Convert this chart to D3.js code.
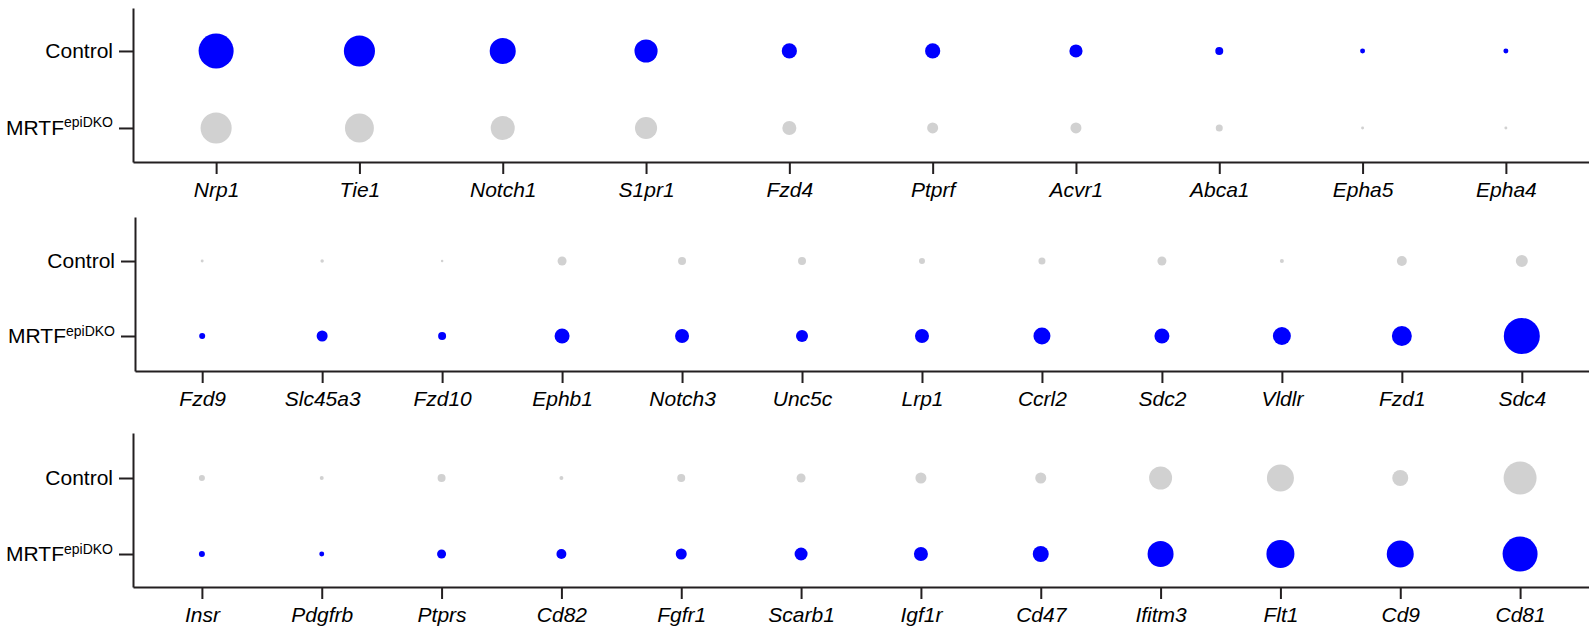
<!DOCTYPE html>
<html>
<head>
<meta charset="utf-8">
<script src="https://cdn.jsdelivr.net/npm/d3@7"></script>
<style>
  html, body { margin: 0; padding: 0; background: #ffffff; }
  svg { display: block; }
  text { font-family: "Liberation Sans", Arial, Helvetica, sans-serif; fill: #000; }
</style>
</head>
<body>
<script>
// Sample groups (rows of every panel)
const groups = ["Control", "KO"];
const groupLabels = { Control: "Control", KO: "MRTF" };
const groupSuperscripts = { Control: "", KO: "epiDKO" };

// Panel 1: genes higher in Control
const panel1Genes = ["Nrp1", "Tie1", "Notch1", "S1pr1", "Fzd4", "Ptprf", "Acvr1", "Abca1", "Epha5", "Epha4"];
const panel1Control = [85, 67, 47, 37, 16, 16, 12, 4.4, 1.7, 1.7];
const panel1KO = [67, 58, 40, 34, 13.6, 8.4, 8.4, 3.4, 0.6, 0.6];
const panel1Up = "Control";

// Panel 2: genes higher in MRTF epiDKO
const panel2Genes = ["Fzd9", "Slc45a3", "Fzd10", "Ephb1", "Notch3", "Unc5c", "Lrp1", "Ccrl2", "Sdc2", "Vldlr", "Fzd1", "Sdc4"];
const panel2Control = [0.6, 0.85, 0.43, 5.6, 4.4, 4.4, 2.5, 3.4, 5.6, 1.1, 6.9, 10];
const panel2KO = [2.5, 8.4, 4.4, 15.6, 13.6, 10, 13.6, 20, 15.6, 22.4, 27.7, 89.8];
const panel2Up = "KO";

// Panel 3: genes higher in MRTF epiDKO
const panel3Genes = ["Insr", "Pdgfrb", "Ptprs", "Cd82", "Fgfr1", "Scarb1", "Igf1r", "Cd47", "Ifitm3", "Flt1", "Cd9", "Cd81"];
const panel3Control = [2.5, 1.1, 4.4, 1.1, 4.4, 5.6, 8.4, 8.4, 36.6, 50.5, 17.7, 75.4];
const panel3KO = [2.5, 1.7, 5.6, 6.9, 8.4, 11.7, 13.6, 17.7, 46.8, 54.3, 50.5, 84.8];
const panel3Up = "KO";

const panels = [
  { genes: panel1Genes, Control: panel1Control, KO: panel1KO, up: panel1Up },
  { genes: panel2Genes, Control: panel2Control, KO: panel2KO, up: panel2Up },
  { genes: panel3Genes, Control: panel3Control, KO: panel3KO, up: panel3Up }
];

// Layout of the three stacked panels
const width = 1589, height = 628;
const frames = [
  { top: 8,   bottom: 162, left: 133, xPad: 0.58,  yPad: 0.5,   yAlign: 0.558 },
  { top: 217, bottom: 371, left: 135, xPad: 0.56,  yPad: 0.527, yAlign: 0.557 },
  { top: 433, bottom: 587, left: 133, xPad: 0.575, yPad: 0.513, yAlign: 0.577 }
];
const right = 1589;
const axisColor = "#231f20";

const svg = d3.select("body").append("svg")
  .attr("width", width)
  .attr("height", height);

const r = d3.scaleSqrt().domain([0, 100]).range([0, 19]);
const upColor = "#0000ff", downColor = "#d1d1d1";

panels.forEach((p, i) => {
  const f = frames[i];
  const x = d3.scalePoint().domain(p.genes).range([f.left, right]).padding(f.xPad);
  const y = d3.scalePoint().domain(groups).range([f.top, f.bottom]).padding(f.yPad).align(f.yAlign);

  const g = svg.append("g");

  // dots
  const cells = [];
  groups.forEach(grp => {
    p.genes.forEach((gene, j) => cells.push({ gene, grp, v: p[grp][j] }));
  });
  g.append("g").selectAll("circle")
    .data(cells)
    .join("circle")
    .attr("cx", d => x(d.gene))
    .attr("cy", d => y(d.grp))
    .attr("r", d => r(d.v))
    .attr("fill", d => d.grp === p.up ? upColor : downColor);

  // x axis
  const xAxis = g.append("g")
    .attr("transform", `translate(0,${f.bottom})`)
    .call(d3.axisBottom(x).tickSize(12).tickSizeOuter(0).tickPadding(8));
  xAxis.selectAll("text")
    .style("font-size", "21px")
    .style("font-style", "italic")
    .attr("fill", "#000");

  // y axis
  const yAxis = g.append("g")
    .attr("transform", `translate(${f.left},0)`)
    .call(d3.axisLeft(y).tickSize(14).tickSizeOuter(0).tickPadding(6));
  yAxis.selectAll("text")
    .style("font-size", "21px")
    .attr("fill", "#000")
    .each(function(d) {
      const t = d3.select(this);
      t.text(null);
      t.append("tspan").text(groupLabels[d]);
      if (groupSuperscripts[d]) {
        t.append("tspan")
          .style("font-size", "14px")
          .attr("dy", "-0.55em")
          .text(groupSuperscripts[d]);
      }
    });

  [xAxis, yAxis].forEach(a => {
    a.selectAll("path, line").attr("stroke", axisColor).attr("stroke-width", 2);
  });
  xAxis.select(".domain").attr("stroke-width", 2.2);
});
</script>
</body>
</html>
